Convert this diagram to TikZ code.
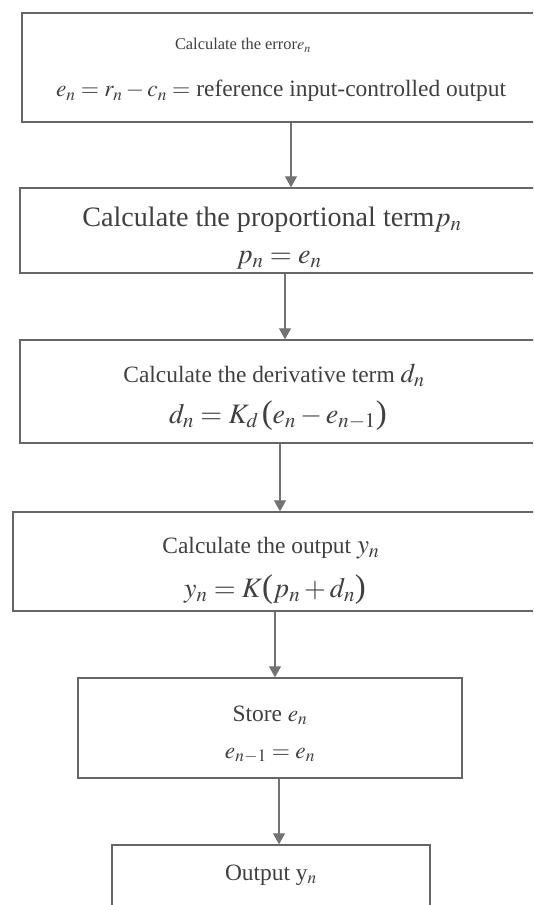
\documentclass[tikz,border=0pt]{standalone}
\usepackage{mathptmx}
\usepackage{fontspec}
\setmainfont{Liberation Serif}
\usetikzlibrary{arrows.meta,positioning}
\newcommand{\fsz}[1]{\fontsize{#1}{#1}\selectfont}
\newcommand{\opar}{\mbox{\fsz{28}(}}
\newcommand{\cpar}{\mbox{\fsz{28})}}

\begin{document}
\begin{tikzpicture}[x=0.03cm, y=-0.03cm,
        box/.style={draw=black!60, line width=1.2pt, fill=white},
        txt/.style={anchor=base, inner sep=0pt, text=black!75},
        arrow/.style={-{Triangle[width=0.36cm,length=0.33cm]}, draw=black!55, line width=1.1pt}
    ]
    \clip (0,0) rectangle (533,905);
    \fill[white] (0,0) rectangle (533,905);

    % Kaesten (rechts angeschnitten)
    \node[box, minimum width=16.14cm, minimum height=3.27cm] (b1) at (291,67.5) {};
    \node[box, minimum width=16.2cm, minimum height=2.55cm] (b2) at (290,230.5) {};
    \node[box, minimum width=16.2cm, minimum height=3.09cm] (b3) at (290,391.5) {};
    \node[box, minimum width=16.41cm, minimum height=2.97cm] (b4) at (286.5,561.5) {};
    \node[box, minimum width=11.52cm, minimum height=3cm] (b5) at (270,728) {};
    \node[box, minimum width=9.54cm, minimum height=3cm] (b6) at (271,895) {};

    % Texte
    \node[txt, font=\fsz{14}] (t1a) at (243,50) {Calculate the error$e_n$};
    \node[txt, font=\fsz{20}] (t1b) at (281,97) {$e_n = r_n - c_n =$ reference input-controlled output};
    \node[txt, font=\fsz{24}] (t2a) at (272,226) {Calculate the proportional term$p_n$};
    \node[txt, font=\fsz{24}] (t2b) at (279,263) {$p_n = e_n$};
    \node[txt, font=\fsz{20}] (t3a) at (274,382) {Calculate the derivative term {\fsz{23}$d_n$}};
    \node[txt, font=\fsz{24}] (t3b) at (278,423) {$d_n = K_d\,\opar e_n - e_{n-1}\cpar$};
    \node[txt, font=\fsz{20}] (t4a) at (271,553) {Calculate the output {\fsz{23}$y_n$}};
    \node[txt, font=\fsz{24}] (t4b) at (275,597) {$y_n = K\opar p_n + d_n\cpar$};
    \node[txt, font=\fsz{20}] (t5a) at (270,721) {Store $e_n$};
    \node[txt, font=\fsz{20}] (t5b) at (270,758) {$e_{n-1} = e_n$};
    \node[txt, font=\fsz{20}] (t6) at (271,880) {Output y$_n$};

    % Pfeile
    \coordinate (a1) at (291,0);
    \coordinate (a2) at (285,0);
    \coordinate (a3) at (280,0);
    \coordinate (a4) at (275,0);
    \coordinate (a5) at (279,0);
    \draw[arrow] (b1.south -| a1) -- (b2.north -| a1);
    \draw[arrow] (b2.south -| a2) -- (b3.north -| a2);
    \draw[arrow] (b3.south -| a3) -- (b4.north -| a3);
    \draw[arrow] (b4.south -| a4) -- (b5.north -| a4);
    \draw[arrow] (b5.south -| a5) -- (b6.north -| a5);

\end{tikzpicture}
\end{document}
